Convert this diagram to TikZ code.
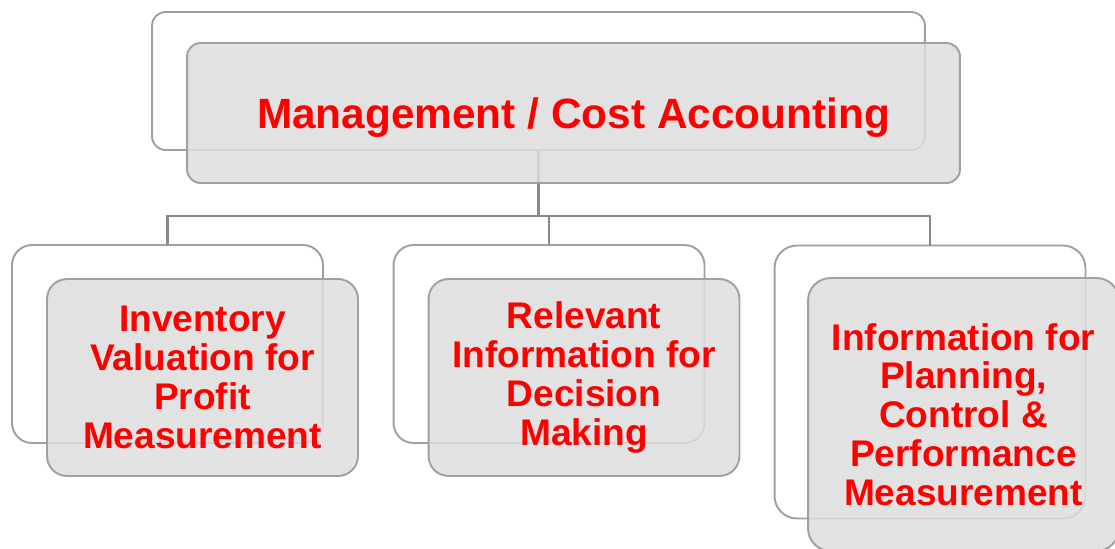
\documentclass[tikz,border=0pt]{standalone}
\usepackage{fontspec}
\setmainfont{Liberation Sans}
\usetikzlibrary{positioning}

\definecolor{boxline}{RGB}{160,160,160}
\definecolor{boxfill}{RGB}{222,222,222}
\definecolor{linkgray}{RGB}{136,136,136}

\begin{document}
\begin{tikzpicture}[
    x=0.02cm, y=-0.02cm,
    backbox/.style={draw=boxline, line width=1.1pt, fill=white, rectangle, inner sep=0pt, outer sep=0pt},
    frontbox/.style={draw=boxline, line width=1.1pt, fill=boxfill, fill opacity=0.85, draw opacity=1, text opacity=1, rectangle, inner sep=0pt, outer sep=0pt, align=center, text=red, font=\bfseries\fontsize{21.1}{22.1}\selectfont},
    link/.style={draw=linkgray, line width=1.5pt}
]

% fixed page size
\useasboundingbox (0,0) rectangle (1115,548);

% Back boxes
\node[backbox, rounded corners=0.27cm, minimum width=15.46cm, minimum height=2.76cm] (topback) at (538.5,81) {};
\node[backbox, rounded corners=0.4cm, minimum width=6.22cm, minimum height=3.96cm] (leftback) at (167.5,344) {};
\node[backbox, rounded corners=0.4cm, minimum width=6.22cm, minimum height=3.96cm] (midback) at (549,344) {};
\node[backbox, rounded corners=0.45cm, minimum width=6.22cm, minimum height=5.46cm] (rightback) at (930,382) {};

% Tree links
\draw[link] (topback.south) -- ++(0,66) coordinate (bus);
\draw[link] (leftback.north) |- (bus) -| (rightback.north);
\draw[link] (bus -| midback.north) -- (midback.north);

% Front boxes
\node[frontbox, rounded corners=0.27cm, minimum width=15.46cm, minimum height=2.8cm, text depth=0pt,
      font=\bfseries\fontsize{24.1}{26}\selectfont] (topfront) at (573.5,113) {Management / Cost Accounting};
\node[frontbox, rounded corners=0.4cm, minimum width=6.22cm, minimum height=3.94cm] (leftfront) at (202.5,377.5)
    {Inventory\\Valuation for\\Profit\\Measurement};
\node[frontbox, rounded corners=0.4cm, minimum width=6.22cm, minimum height=3.94cm] (midfront) at (584,377.5)
    {Relevant\\Information for\\Decision\\Making};
\node[frontbox, rounded corners=0.45cm, minimum width=6.22cm, minimum height=5.46cm] (rightfront) at (963.5,414.5)
    {Information for\\Planning,\\Control \&\\Performance\\Measurement};

\end{tikzpicture}
\end{document}
